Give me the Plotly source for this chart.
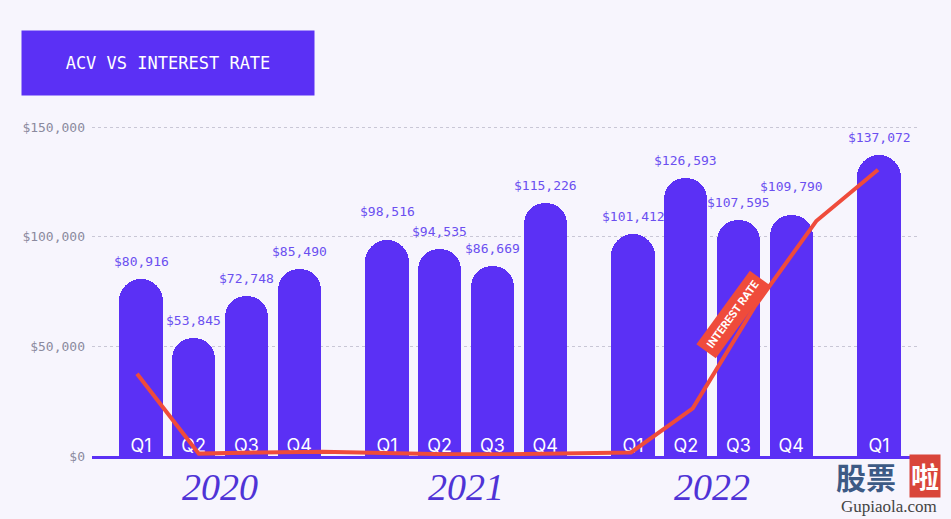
import plotly.graph_objects as go

# ---- data ----
quarters = ["Q1", "Q2", "Q3", "Q4", "Q1", "Q2", "Q3", "Q4", "Q1", "Q2", "Q3", "Q4", "Q1"]
years = ["2020"] * 4 + ["2021"] * 4 + ["2022"] * 4 + ["2023"]
acv = [80916, 53845, 72748, 85490, 98516, 94535, 86669, 115226,
       101412, 126593, 107595, 109790, 137072]
interest_rate = [1.38, 0.04, 0.06, 0.07, 0.05, 0.03, 0.03, 0.05,
                 0.06, 0.80, 2.50, 3.94, 4.80]
year_labels = ["2020", "2021", "2022"]
y_tick_vals = [0, 50000, 100000, 150000]
y_tick_text = ["$0", "$50,000", "$100,000", "$150,000"]
title_text = "ACV VS INTEREST RATE"

# ---- style ----
BG = "#f7f5fd"
BAR = "#5b30f5"
RED = "#ef4b3b"
LABEL = "#6b4ff0"
TICK = "#8b8a9e"
YEAR = "#4f33d6"
MONO = "DejaVu Sans Mono"
GROUP_GAP = 0.667
CLASH = 6500  # value gap below which neighbouring labels would collide

uniq_years = list(dict.fromkeys(years))
xpos = []
counter = {}
for y in years:
    g = uniq_years.index(y)
    q = counter.get(y, 0)
    counter[y] = q + 1
    xpos.append(g * (4 + GROUP_GAP) + q)

line_cats = [f"{y} {q}" for y, q in zip(years, quarters)]

fig = go.Figure()
fig.add_trace(go.Bar(
    x=xpos, y=acv, width=0.82,
    marker=dict(color=BAR, line_width=0, cornerradius="50%"),
    hoverinfo="skip", showlegend=False,
))
fig.add_trace(go.Scatter(
    x=xpos, y=[0] * len(xpos), mode="text", text=quarters,
    textposition="top center", marker=dict(size=20),
    textfont=dict(color="white", size=18, family="Inter"),
    hoverinfo="skip", showlegend=False,
))
fig.add_trace(go.Scatter(
    x=line_cats, y=interest_rate, xaxis="x2", yaxis="y2",
    mode="lines", line=dict(color=RED, width=4),
    hoverinfo="skip", showlegend=False,
))

annotations = []
for i, (x, v) in enumerate(zip(xpos, acv)):
    extra = 0
    for j in (i - 1, i + 1):
        if 0 <= j < len(acv) and years[j] == years[i]:
            if 0 < v - acv[j] < CLASH:
                extra = 11
    annotations.append(dict(
        x=x, y=v, xref="x", yref="y", text=f"${v:,}", showarrow=False,
        xanchor="center", yanchor="bottom", yshift=8 + extra,
        font=dict(family=MONO, size=13, color=LABEL),
    ))
for yl in year_labels:
    xs = [p for p, y in zip(xpos, years) if y == yl]
    annotations.append(dict(
        x=sum(xs) / len(xs), y=0, xref="x", yref="y", text=yl, showarrow=False,
        xanchor="center", yanchor="top", yshift=-8,
        font=dict(family="Liberation Serif", size=38, color=YEAR, style="italic"),
    ))
# series label pill
annotations.append(dict(
    x=9.65, y=2.37, xref="x2", yref="y2", text="<b>INTEREST RATE</b>",
    showarrow=False, textangle=-54, bgcolor=RED, borderpad=5,
    font=dict(family="Roboto", size=11, color="white"),
))
# title box
annotations.append(dict(
    x=0.0918, y=1.104, xref="paper", yref="paper", text=title_text,
    showarrow=False, xanchor="center", yanchor="middle",
    width=292, height=64, bgcolor=BAR, borderpad=0,
    font=dict(family=MONO, size=17, color="white"),
))
# watermark
annotations += [
    dict(x=0.935, y=-0.056, xref="paper", yref="paper", text="<b>股票</b>",
         xanchor="center", yanchor="middle", showarrow=False,
         font=dict(family="Noto Sans CJK SC", size=30, color="#3d5a85")),
    dict(x=1.006, y=-0.056, xref="paper", yref="paper", text="<b>啦</b>",
         xanchor="center", yanchor="middle", showarrow=False,
         bgcolor="#d9453a", borderpad=1,
         font=dict(family="Noto Sans CJK SC", size=28, color="white")),
    dict(x=0.963, y=-0.141, xref="paper", yref="paper", text="Gupiaola.com",
         xanchor="center", yanchor="middle", showarrow=False,
         font=dict(family="Liberation Serif", size=17, color="#444444")),
]

fig.update_layout(
    width=951, height=519,
    margin=dict(l=92, r=31, t=100, b=63),
    paper_bgcolor=BG, plot_bgcolor=BG,
    bargap=0,
    xaxis=dict(range=[-0.930, 14.778], showgrid=False, zeroline=False,
               showticklabels=False, ticks="", showline=True,
               linecolor=BAR, linewidth=3, fixedrange=True),
    yaxis=dict(range=[0, 162340], tickvals=y_tick_vals, ticktext=y_tick_text,
               showgrid=True, gridcolor="#c9c7d6", griddash="dot", gridwidth=1,
               zeroline=False, showline=False, ticks="",
               tickfont=dict(family=MONO, size=13, color=TICK),
               ticklabelstandoff=6),
    xaxis2=dict(overlaying="x", visible=False, type="category",
                categoryorder="array", categoryarray=line_cats,
                range=[-0.729, 12.68]),
    yaxis2=dict(overlaying="y", visible=False, range=[0, 5.97]),
    annotations=annotations,
    showlegend=False,
)

fig.write_html(
    "out.html",
    config={"displayModeBar": False},
    post_script="document.body.style.margin='0';document.body.style.background='" + BG + "';",
)
